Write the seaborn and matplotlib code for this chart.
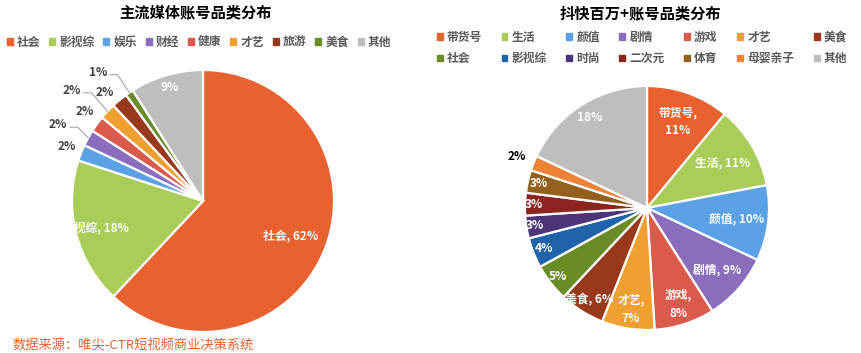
import numpy as np
import matplotlib
matplotlib.use("Agg")
import matplotlib.pyplot as plt
from matplotlib.patches import Patch
import seaborn as sns

# Data
left_cats = ["社会", "影视综", "娱乐", "财经", "健康", "才艺", "旅游", "美食", "其他"]
left_vals = [62, 18, 2, 2, 2, 2, 2, 1, 9]
left_colors = ["#E9612F", "#A9CD58", "#5AA2E5", "#8A6DBD", "#DA5A4C",
               "#EFA030", "#98391C", "#6A8C27", "#BEBEBE"]

right_cats = ["带货号", "生活", "颜值", "剧情", "游戏", "才艺", "美食",
              "社会", "影视综", "时尚", "二次元", "体育", "母婴亲子", "其他"]
right_vals = [11, 11, 10, 9, 8, 7, 6, 5, 4, 3, 3, 3, 2, 18]
right_colors = ["#E9612F", "#A9CD58", "#5AA2E5", "#8A6DBD", "#DA5A4C", "#EFA030",
                "#98391C", "#6A8C27", "#1F63AB", "#4E357A", "#8C2420", "#93601E",
                "#EE8236", "#BEBEBE"]

sns.set_theme(style="white")
plt.rcParams["font.family"] = ["Noto Sans CJK SC", "DejaVu Sans"]

fig = plt.figure(figsize=(8.62, 3.53), dpi=100)
W, H = 862, 353


def add_pie_axes(cx, cy, r):
    return fig.add_axes([(cx - r) / W, (H - cy - r) / H, 2 * r / W, 2 * r / H])


def mid_angle(w):
    return np.deg2rad((w.theta1 + w.theta2) / 2)


# ---- left pie ----
ax1 = add_pie_axes(203, 201, 131)
wedges1, _ = ax1.pie(left_vals, colors=left_colors, startangle=90, counterclock=False,
                     wedgeprops=dict(edgecolor="white", linewidth=1.6))
ax1.set_xlim(-1, 1)
ax1.set_ylim(-1, 1)
ax1.set_aspect("equal")
ax1.axis("off")

# inside labels: (index, text, radius, clip)
for i, txt, rr, clip in [(0, "社会, 62%", 0.72, False), (1, "影视综, 18%", 0.85, True),
                         (8, "9%", 0.9, False)]:
    a = mid_angle(wedges1[i])
    ax1.text(rr * np.cos(a), rr * np.sin(a), txt, ha="center", va="center",
             color="white", fontsize=8.5, fontweight="bold", clip_on=clip)

# outside labels: (index, angle offset, radius, leader)
for i, da, rr, lead in [(7, 5, 1.27, True), (6, 2.5, 1.12, False), (5, 3, 1.31, True),
                        (4, -1, 1.13, False), (3, 1, 1.25, True), (2, 0, 1.12, False)]:
    a = mid_angle(wedges1[i])
    b = a + np.deg2rad(da)
    lx, ly = rr * np.cos(b), rr * np.sin(b)
    ax1.text(lx, ly, f"{left_vals[i]}%", ha="center", va="center",
             color="#404040", fontsize=8.5, fontweight="bold", clip_on=False)
    if lead:
        x0, y0 = lx + 0.09, ly - 0.02
        ax1.plot([x0, x0 + 0.06, np.cos(a)], [y0, y0, np.sin(a)], color="#A6A6A6",
                 lw=0.8, clip_on=False)

# ---- right pie ----
ax2 = add_pie_axes(647, 208, 122)
wedges2, _ = ax2.pie(right_vals, colors=right_colors, startangle=90, counterclock=False,
                     wedgeprops=dict(edgecolor="white", linewidth=1.6))
ax2.set_xlim(-1, 1)
ax2.set_ylim(-1, 1)
ax2.set_aspect("equal")
ax2.axis("off")

right_labels = ["带货号,\n11%", "生活, 11%", "颜值, 10%", "剧情, 9%", "游戏,\n8%",
                "才艺,\n7%", "美食, 6%", "5%", "4%", "3%", "3%", "3%", "2%", "18%"]
right_r = [0.75, 0.72, 0.74, 0.77, 0.83, 0.84, 0.89, 0.92, 0.91, 0.93, 0.93, 0.91, 1.15, 0.88]
for i, (txt, rr) in enumerate(zip(right_labels, right_r)):
    a = mid_angle(wedges2[i])
    color = "black" if rr > 1 else "white"
    ax2.text(rr * np.cos(a), rr * np.sin(a), txt, ha="center", va="center",
             color=color, fontsize=8.5, fontweight="bold", linespacing=1.5, clip_on=False)

# ---- titles ----
fig.text(196 / W, 1 - 12 / H, "主流媒体账号品类分布", ha="center", va="center",
         fontsize=11, fontweight="bold", color="black")
fig.text(640 / W, 1 - 13 / H, "抖快百万+账号品类分布", ha="center", va="center",
         fontsize=11, fontweight="bold", color="black")

# ---- legends ----
h1 = [Patch(color=c, label=l) for c, l in zip(left_colors, left_cats)]
fig.legend(handles=h1, loc="center", bbox_to_anchor=(199 / W, 1 - 42 / H), ncol=9,
           frameon=False, handlelength=0.5, handleheight=0.5, handletextpad=0.35,
           columnspacing=0.75, prop=dict(size=8.5, weight="bold"), labelcolor="#595959")

order = [0, 7, 1, 8, 2, 9, 3, 10, 4, 11, 5, 12, 6, 13]
h2 = [Patch(color=right_colors[k], label=right_cats[k]) for k in order]
fig.legend(handles=h2, loc="center", bbox_to_anchor=(642 / W, 1 - 48 / H), ncol=7,
           frameon=False, handlelength=0.5, handleheight=0.5, handletextpad=0.35,
           columnspacing=1.65, labelspacing=0.7, prop=dict(size=8.5, weight="bold"),
           labelcolor="#595959")

# ---- source ----
fig.text(12 / W, 1 - 345 / H, "数据来源：唯尖-CTR短视频商业决策系统", ha="left", va="center",
         fontsize=9.5, color="#E8622F", style="italic")

fig.savefig("out.png", dpi=100)
